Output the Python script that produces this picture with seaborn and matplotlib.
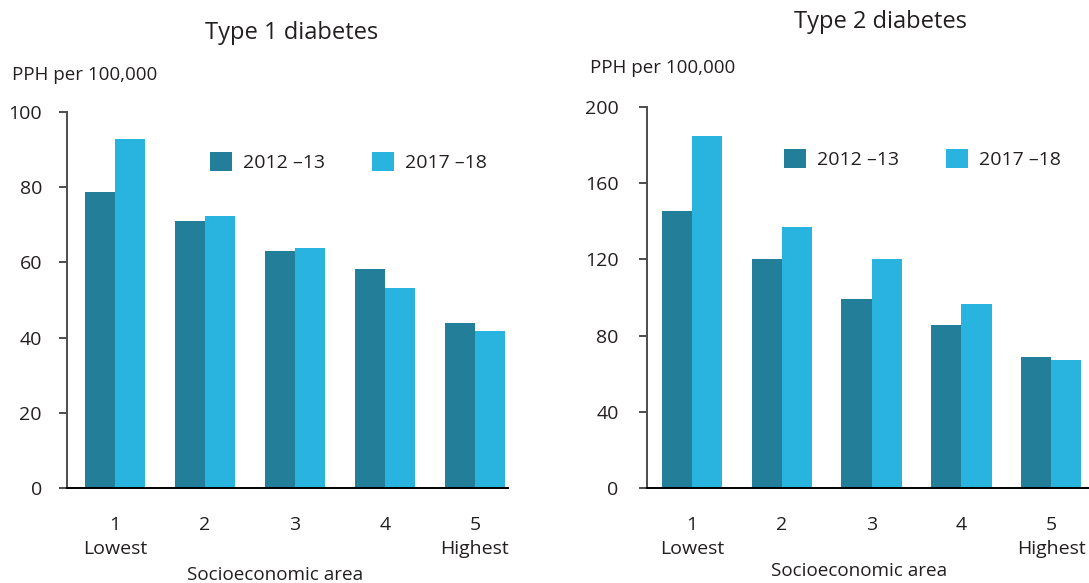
import matplotlib
matplotlib.use("Agg")
import matplotlib.pyplot as plt
import seaborn as sns
import pandas as pd

# Potentially preventable hospitalisations (PPH) per 100,000 by socioeconomic area
areas = ["1\nLowest", "2", "3", "4", "5\nHighest"]
periods = ["2012 \u201313", "2017 \u201318"]
type1_2012 = [78.7, 71.0, 63.0, 58.2, 43.9]
type1_2017 = [92.8, 72.3, 63.8, 53.2, 41.8]
type2_2012 = [145.3, 120.1, 99.1, 85.5, 68.7]
type2_2017 = [184.6, 136.9, 120.1, 96.5, 67.1]
type1_ticks = [0, 20, 40, 60, 80, 100]
type2_ticks = [0, 40, 80, 120, 160, 200]

DARK = "#237f99"
LIGHT = "#28b4de"
TEXT = "#231f20"

sns.set_theme(style="white")
plt.rcParams["font.family"] = ["Open Sans", "DejaVu Sans"]


def long_frame(v1, v2):
    return pd.DataFrame({
        "area": areas * 2,
        "period": [periods[0]] * 5 + [periods[1]] * 5,
        "value": v1 + v2,
    })


W, H = 1089, 583
fig = plt.figure(figsize=(W / 100, H / 100), dpi=100)


def panel(rect_px, data, ticks, xlim, title, title_xy, ylab_xy, legend_xy,
          xlabel_xy, ypad):
    x0, x1, ytop, ybot = rect_px
    ax = fig.add_axes([x0 / W, (H - ybot) / H, (x1 - x0) / W, (ybot - ytop) / H])
    sns.barplot(data=data, x="area", y="value", hue="period", order=areas,
                hue_order=periods, palette=[DARK, LIGHT], width=0.67,
                saturation=1, linewidth=0, ax=ax)
    ax.set_ylim(ticks[0], ticks[-1])
    ax.set_yticks(ticks)
    ax.set_xlim(*xlim)
    ax.set_ylabel("")
    ax.set_xlabel("Socioeconomic area", fontsize=13.6, color=TEXT)
    ax.xaxis.set_label_coords((xlabel_xy[0] - x0) / (x1 - x0),
                              (ybot - xlabel_xy[1]) / (ybot - ytop))
    for s in ("top", "right"):
        ax.spines[s].set_visible(False)
    ax.spines["left"].set_color("#4d4d4d")
    ax.spines["left"].set_linewidth(1.4)
    ax.spines["bottom"].set_color("black")
    ax.spines["bottom"].set_linewidth(1.4)
    ax.tick_params(axis="y", which="major", left=True, length=6, width=1.4,
                   color="#4d4d4d", pad=ypad, labelsize=14, labelcolor=TEXT)
    ax.tick_params(axis="x", bottom=False, pad=14, labelsize=14, labelcolor=TEXT)
    for lab in ax.get_xticklabels():
        lab.set_linespacing(1.45)
        lab.set_verticalalignment("top")
    fig.text(title_xy[0] / W, 1 - title_xy[1] / H, title, fontsize=17,
             color=TEXT, ha="center", va="center")
    fig.text(ylab_xy[0] / W, 1 - ylab_xy[1] / H, "PPH per 100,000",
             fontsize=13.5, color=TEXT, ha="left", va="center")
    leg = ax.legend(loc="center left",
                    bbox_to_anchor=((legend_xy[0] - x0) / (x1 - x0),
                                    (ybot - legend_xy[1]) / (ybot - ytop)),
                    ncol=2, frameon=False, fontsize=14, handlelength=1.15,
                    handleheight=1.1, handletextpad=0.55, columnspacing=2.4,
                    borderpad=0, borderaxespad=0)
    for t in leg.get_texts():
        t.set_color(TEXT)
    return ax


panel((67, 508, 112, 488), long_frame(type1_2012, type1_2017), type1_ticks,
      (-0.533, 4.367), "Type 1 diabetes", (292, 33), (12, 75), (210, 162),
      (275, 566), 12)
panel((647, 1089, 107, 488), long_frame(type2_2012, type2_2017), type2_ticks,
      (-0.50, 4.42), "Type 2 diabetes", (880, 22), (590, 68), (784, 159),
      (859, 562), 14.5)

fig.savefig("out.png", dpi=100)
